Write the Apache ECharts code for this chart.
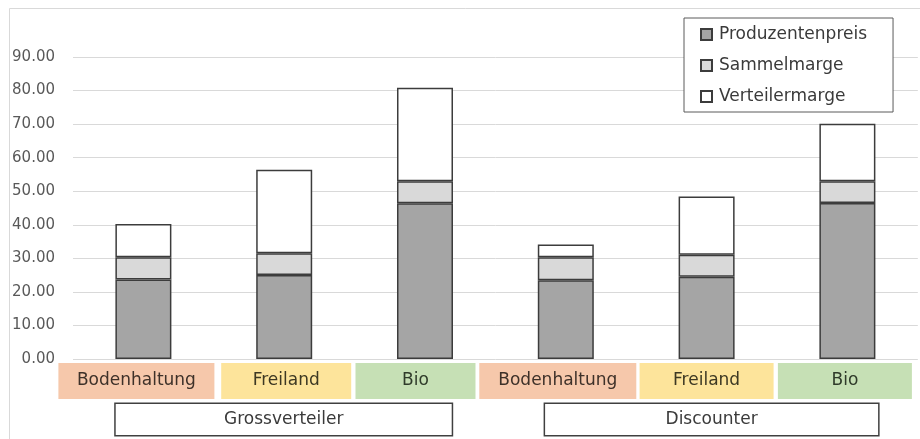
<!DOCTYPE html>
<html>
<head>
<meta charset="utf-8">
<script src="https://cdn.jsdelivr.net/npm/echarts@6/dist/echarts.min.js"></script>
<style>
  html, body { margin: 0; padding: 0; background: #ffffff; }
  #chart { width: 920px; height: 439px; }
</style>
</head>
<body>
<div id="chart"></div>
<script>
// Haltungsformen je Vertriebskanal
const categories = ['Bodenhaltung', 'Freiland', 'Bio', 'Bodenhaltung', 'Freiland', 'Bio'];
const channels = ['Grossverteiler', 'Discounter'];
const seriesNames = ['Produzentenpreis', 'Sammelmarge', 'Verteilermarge'];

const produzentenpreis = [23.7, 25.0, 46.4, 23.5, 24.5, 46.5];
const sammelmarge      = [6.6, 6.5, 6.6, 6.8, 6.6, 6.5];
const verteilermarge   = [9.9, 24.9, 27.8, 3.8, 17.3, 17.1];

const yTicks = [0, 10, 20, 30, 40, 50, 60, 70, 80, 90];

// --- styling ---
const FONT = '"DejaVu Sans", "Noto Sans", sans-serif';
const seriesColors = ['#a5a5a5', '#d9d9d9', '#ffffff'];
const barBorder = '#3c3c3c';

// coloured label cells under the bars: fill, text colour, cell width, horizontal shift
const cellFill = { 'Bodenhaltung': '#f6c8ab', 'Freiland': '#fde49b', 'Bio': '#c6e0b5' };
const cellText = { 'Bodenhaltung': '#3e3129', 'Freiland': '#3d3823', 'Bio': '#2f3b2a' };
const cellWidth = [156, 130, 120, 157, 134, 134];
const cellShift = [-7, 2, -9.5, -8, 0, -2.5];

const channelWidth = [336, 333];
const channelShift = [-0.5, 5];

// a transparent spacer fragment moves a box sideways around its tick
function shiftedLabel(key, text, shift) {
  const pad = Math.abs(shift) * 2;
  if (pad < 0.5) return '{' + key + '|' + text + '}';
  return shift < 0
    ? '{' + key + '|' + text + '}{sp' + key + '| }'
    : '{sp' + key + '| }{' + key + '|' + text + '}';
}

const catRich = {};
categories.forEach((c, i) => {
  catRich['c' + i] = {
    width: cellWidth[i], height: 36, lineHeight: 36, align: 'center',
    backgroundColor: cellFill[c], color: cellText[c],
    fontFamily: FONT, fontSize: 17
  };
  catRich['spc' + i] = { width: Math.abs(cellShift[i]) * 2, height: 36, color: 'transparent', fontSize: 17 };
});

const chRich = {};
channels.forEach((c, i) => {
  chRich['g' + i] = {
    width: channelWidth[i], height: 31, lineHeight: 31, align: 'center',
    backgroundColor: '#ffffff', borderColor: '#404040', borderWidth: 1.5,
    color: '#3a3a3a', fontFamily: FONT, fontSize: 17
  };
  chRich['spg' + i] = { width: Math.abs(channelShift[i]) * 2, height: 31, color: 'transparent', fontSize: 17 };
});

const valueSets = [produzentenpreis, sammelmarge, verteilermarge];

const chart = echarts.init(document.getElementById('chart'), null, { renderer: 'canvas' });

chart.setOption({
  animation: false,
  backgroundColor: '#ffffff',
  textStyle: { fontFamily: FONT },
  graphic: [{
    type: 'rect', silent: true, z: -10,
    shape: { x: 9.5, y: 8.5, width: 930, height: 450 },
    style: { fill: 'none', stroke: '#d9d9d9', lineWidth: 1 }
  }],
  legend: {
    orient: 'vertical',
    left: 684, top: 18,
    padding: [8, 26, 7, 16],
    itemGap: 14,
    itemWidth: 11, itemHeight: 11,
    icon: 'rect',
    backgroundColor: '#ffffff',
    borderColor: '#5a5a5a', borderWidth: 1,
    textStyle: { fontFamily: FONT, fontSize: 17, color: '#3a3a3a', padding: [0, 0, 0, 2] },
    data: seriesNames
  },
  grid: { left: 73, right: 1, top: 57, bottom: 80, containLabel: false },
  xAxis: [{
    type: 'category',
    data: categories,
    axisLine: { show: false },
    axisTick: { show: false },
    axisLabel: {
      interval: 0, margin: 4,
      formatter: (v, i) => shiftedLabel('c' + i, v, cellShift[i]),
      rich: catRich
    }
  }, {
    type: 'category',
    position: 'bottom',
    data: channels,
    axisLine: { show: false },
    axisTick: { show: false },
    axisLabel: {
      interval: 0, margin: 45,
      formatter: (v, i) => shiftedLabel('g' + i, v, channelShift[i]),
      rich: chRich
    }
  }],
  yAxis: {
    type: 'value',
    min: yTicks[0], max: yTicks[yTicks.length - 1], interval: yTicks[1] - yTicks[0],
    axisLine: { show: false },
    axisTick: { show: false },
    splitLine: { lineStyle: { color: '#d9d9d9', width: 1 } },
    axisLabel: {
      margin: 18, color: '#595959', fontFamily: FONT, fontSize: 15,
      formatter: v => v.toFixed(2)
    }
  },
  series: seriesNames.map((name, k) => ({
    name: name,
    type: 'bar',
    stack: 'preis',
    xAxisIndex: 0,
    barWidth: 56,
    data: valueSets[k],
    itemStyle: { color: seriesColors[k], borderColor: barBorder, borderWidth: 1.5 }
  }))
});
</script>
</body>
</html>
